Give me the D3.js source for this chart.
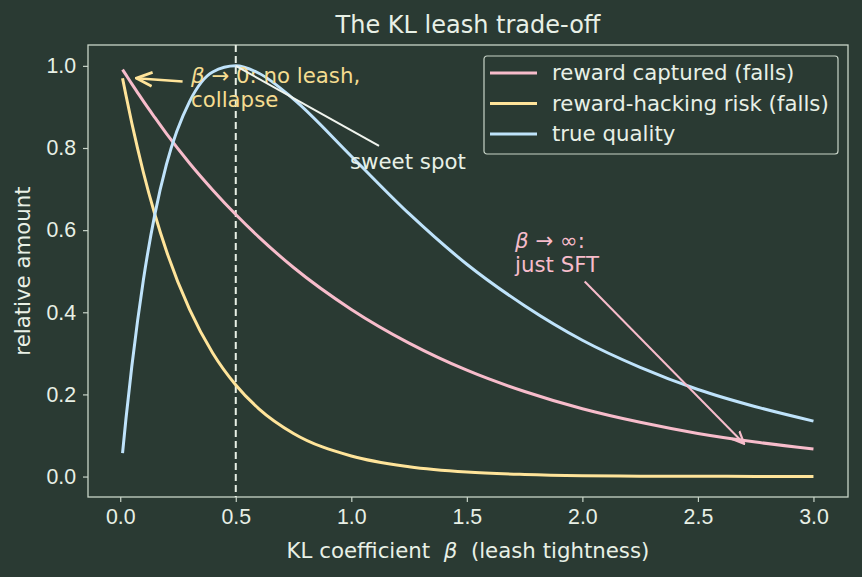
<!DOCTYPE html>
<html>
<head>
<meta charset="utf-8">
<script src="https://cdn.jsdelivr.net/npm/d3@7"></script>
<style>
  body { margin: 0; background: #2a3a33; }
  svg { display: block; font-family: "DejaVu Sans", sans-serif; }
  text { white-space: pre; }
</style>
</head>
<body>
<svg id="chart" width="862" height="577"></svg>
<script>
// beta values (x) and the three curves
const beta = [0.01, 0.025, 0.05, 0.075, 0.1, 0.15, 0.2, 0.3, 0.4, 0.5, 0.6, 0.75,
              1.0, 1.25, 1.5, 1.75, 2.0, 2.25, 2.5, 2.75, 3.0]
const rewardCaptured = [0.991, 0.978, 0.956, 0.935, 0.914, 0.874, 0.835, 0.763, 0.698, 0.638, 0.583, 0.509,
                        0.407, 0.325, 0.259, 0.207, 0.165, 0.132, 0.105, 0.084, 0.067]
const hackingRisk = [0.970, 0.928, 0.861, 0.799, 0.741, 0.638, 0.549, 0.407, 0.301, 0.223, 0.165, 0.105,
                     0.050, 0.024, 0.011, 0.005, 0.002, 0.001, 0.001, 0.000, 0.000]
const trueQuality = [0.057, 0.142, 0.268, 0.379, 0.478, 0.639, 0.760, 0.913, 0.985, 1.000, 0.982, 0.919,
                     0.780, 0.640, 0.517, 0.416, 0.332, 0.266, 0.212, 0.170, 0.135]

const seriesNames = ['reward captured (falls)', 'reward-hacking risk (falls)', 'true quality']
const seriesColors = ['#f7bccb', '#ffe49a', '#bfe3fb']
const xTicks = [0.0, 0.5, 1.0, 1.5, 2.0, 2.5, 3.0]
const yTicks = [0.0, 0.2, 0.4, 0.6, 0.8, 1.0]
const sweetBeta = 0.5

const fg = '#e8f0e6'
const svg = d3.select('#chart')
const margin = { top: 45, right: 14, bottom: 80, left: 88 }
const width = 862 - margin.left - margin.right
const height = 577 - margin.top - margin.bottom

const x = d3.scaleLinear().domain([-0.1395, 3.1495]).range([0, width])
const y = d3.scaleLinear().domain([-0.0498, 1.0508]).range([height, 0])

const g = svg.append('g').attr('transform', `translate(${margin.left},${margin.top})`)

const textFont = '21.3px'

// axes
const xAxis = g.append('g').attr('transform', `translate(0,${height})`)
  .call(d3.axisBottom(x).tickValues(xTicks).tickFormat(d3.format('.1f')).tickSizeOuter(0).tickSize(5).tickPadding(7))
const yAxis = g.append('g')
  .call(d3.axisLeft(y).tickValues(yTicks).tickFormat(d3.format('.1f')).tickSizeOuter(0).tickSize(5).tickPadding(7))
for (const ax of [xAxis, yAxis]) {
  ax.select('.domain').remove()
  ax.selectAll('line').attr('stroke', '#c8d4c8').attr('stroke-width', 1.2)
  ax.selectAll('text').attr('fill', fg).style('font-size', textFont)
}

// frame
g.append('rect')
  .attr('x', 0).attr('y', 0).attr('width', width).attr('height', height)
  .attr('fill', 'none').attr('stroke', '#c8d4c8').attr('stroke-width', 1.3)

// dashed sweet-spot line
g.append('line')
  .attr('x1', x(sweetBeta)).attr('x2', x(sweetBeta))
  .attr('y1', 0).attr('y2', height)
  .attr('stroke', '#e8f0e6').attr('stroke-width', 2).attr('stroke-dasharray', '7,4')

// curves
const allSeries = [rewardCaptured, hackingRisk, trueQuality]
const line = d3.line()
  .x((d, i) => x(beta[i]))
  .y(d => y(d))
  .curve(d3.curveMonotoneX)
allSeries.forEach((vals, k) => {
  g.append('path')
    .datum(vals)
    .attr('d', line)
    .attr('fill', 'none')
    .attr('stroke', seriesColors[k])
    .attr('stroke-width', 3)
})

// arrow markers
const defs = svg.append('defs')
function marker(id, color) {
  defs.append('marker')
    .attr('id', id)
    .attr('viewBox', '0 0 10 10')
    .attr('refX', 9).attr('refY', 5)
    .attr('markerWidth', 7).attr('markerHeight', 7)
    .attr('orient', 'auto-start-reverse')
    .append('path')
    .attr('d', 'M0,1 L9,5 L0,9')
    .attr('fill', 'none').attr('stroke', color).attr('stroke-width', 1.6)
}
marker('arrY', '#ffe49a')
marker('arrP', '#f7bccb')

// annotation: beta -> 0
g.append('line')
  .attr('x1', x(0.27)).attr('y1', y(0.962))
  .attr('x2', x(0.07)).attr('y2', y(0.97))
  .attr('stroke', '#ffe49a').attr('stroke-width', 2.5)
  .attr('marker-end', 'url(#arrY)')
const t0 = g.append('text').attr('fill', '#f5dc90').style('font-size', textFont)
  .attr('x', 191 - margin.left).attr('y', 83 - margin.top)
t0.append('tspan').text('β').style('font-style', 'italic')
t0.append('tspan').text(' → 0: no leash,')
g.append('text').attr('fill', '#f5dc90').style('font-size', textFont)
  .attr('x', 191 - margin.left).attr('y', 107 - margin.top).text('collapse')

// annotation: sweet spot
g.append('line')
  .attr('x1', x(1.12)).attr('y1', y(0.805))
  .attr('x2', x(sweetBeta)).attr('y2', y(1.0))
  .attr('stroke', '#f0f4ee').attr('stroke-width', 2)
g.append('text').attr('fill', fg).style('font-size', textFont)
  .attr('x', 350 - margin.left).attr('y', 169 - margin.top).text('sweet spot')

// annotation: beta -> inf
g.append('line')
  .attr('x1', x(2.01)).attr('y1', y(0.475))
  .attr('x2', x(2.7)).attr('y2', y(0.08))
  .attr('stroke', '#f7bccb').attr('stroke-width', 2)
  .attr('marker-end', 'url(#arrP)')
const t1 = g.append('text').attr('fill', '#f7bccb').style('font-size', textFont)
  .attr('x', 515 - margin.left).attr('y', 248 - margin.top)
t1.append('tspan').text('β').style('font-style', 'italic')
t1.append('tspan').text(' → ∞:')
g.append('text').attr('fill', '#f7bccb').style('font-size', textFont)
  .attr('x', 515 - margin.left).attr('y', 272 - margin.top).text('just SFT')

// legend
const lg = g.append('g').attr('transform', `translate(${484 - margin.left},${56 - margin.top})`)
lg.append('rect')
  .attr('width', 354).attr('height', 98).attr('rx', 3)
  .attr('fill', '#2a3a33').attr('stroke', '#c8d4c8').attr('stroke-width', 1.2)
seriesNames.forEach((name, k) => {
  const yy = 17 + k * 30.5
  lg.append('line').attr('x1', 6).attr('x2', 53).attr('y1', yy).attr('y2', yy)
    .attr('stroke', seriesColors[k]).attr('stroke-width', 3)
  lg.append('text').attr('x', 68).attr('y', yy + 7).attr('fill', fg)
    .style('font-size', textFont).text(name)
})

// titles
svg.append('text').attr('x', margin.left + width / 2).attr('y', 33)
  .attr('text-anchor', 'middle').attr('fill', fg).style('font-size', '24px')
  .text('The KL leash trade-off')
const xl = svg.append('text').attr('x', margin.left + width / 2).attr('y', 558)
  .attr('text-anchor', 'middle').attr('fill', fg).style('font-size', textFont)
xl.append('tspan').text('KL coefficient  ')
xl.append('tspan').text('β').style('font-style', 'italic')
xl.append('tspan').text('  (leash tightness)')
svg.append('text')
  .attr('transform', `translate(30,${margin.top + height / 2}) rotate(-90)`)
  .attr('text-anchor', 'middle').attr('fill', fg).style('font-size', textFont)
  .text('relative amount')
</script>
</body>
</html>
